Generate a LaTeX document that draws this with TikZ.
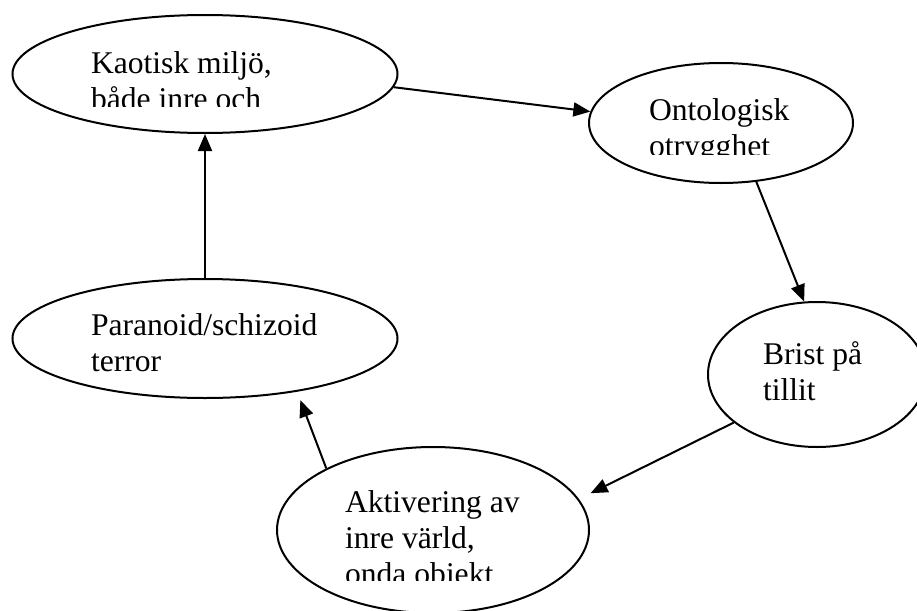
\documentclass[tikz,border=0pt]{standalone}
\usepackage{fontspec}
\setmainfont{Liberation Serif}
\usetikzlibrary{arrows.meta,shapes.geometric}
\begin{document}
\begin{tikzpicture}[x=1pt,y=-1pt,line width=2pt,
  bubble/.style={draw,ellipse,inner sep=0pt},
  words/.style={anchor=base west,align=left,inner sep=0pt,font=\fontsize{31.6}{36}\selectfont},
  >={Triangle[length=17pt,width=14pt]}]
\clip (0,0) rectangle (917,610);
\node[bubble,minimum width=385,minimum height=118] (kaos) at (205,74) {};
\node[bubble,minimum width=264,minimum height=120] (onto) at (721,123) {};
\node[bubble,minimum width=218,minimum height=145] (brist) at (817,374.5) {};
\node[bubble,minimum width=312,minimum height=166] (aktiv) at (433,530) {};
\node[bubble,minimum width=385,minimum height=119] (para) at (205,338.5) {};
\begin{scope}
\clip (80,20) rectangle (400,106);
\node[words] (kaostext) at (90,109) {Kaotisk miljö,\\både inre och};
\end{scope}
\begin{scope}
\clip (640,65) rectangle (860,154);
\node[words] (ontotext) at (648,156) {Ontologisk\\otrygghet};
\end{scope}
\node[words] (bristtext) at (762,400) {Brist på\\tillit};
\begin{scope}
\clip (330,460) rectangle (600,580);
\node[words] (aktivtext) at (344,584) {Aktivering av\\inre värld,\\onda objekt};
\end{scope}
\begin{scope}
\clip (80,285) rectangle (400,371);
\node[words] (paratext) at (90,371) {Paranoid/schizoid\\terror};
\end{scope}
\draw[->] (kaos.-4) -- (onto.175);
\draw[->] (onto.-59) -- (brist.100);
\draw[->,shorten >=13pt] (brist.210) -- (aktiv.12);
\draw[->,shorten >=9pt] (aktiv.150) -- (para.-30);
\draw[->] (para.north) -- (kaos.south);
\end{tikzpicture}
\end{document}
